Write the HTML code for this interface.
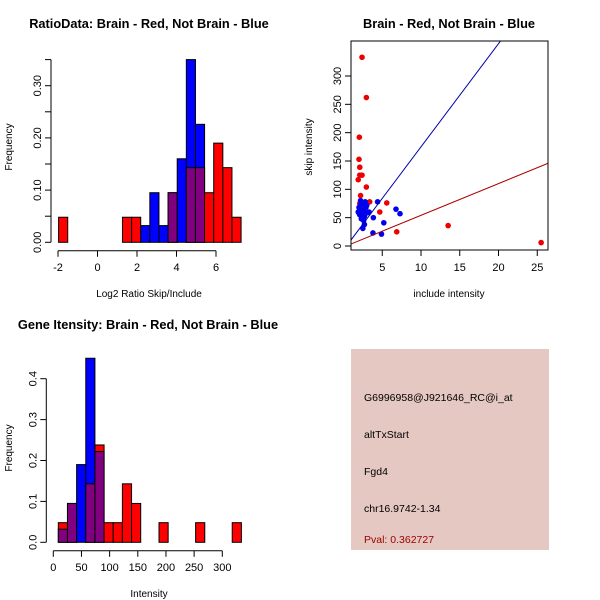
<!DOCTYPE html>
<html><head><meta charset="utf-8"><style>
body{margin:0;background:#fff}
svg{display:block;font-family:"Liberation Sans",sans-serif}
</style></head><body>
<svg id="s" width="600" height="600" viewBox="0 0 600 600">
<rect width="600" height="600" fill="#fff"/>
<g id="p1"></g>
<g id="p2"></g>
<g id="p3"></g>
<g>
<rect x="351" y="349" width="198" height="201" fill="#e5c8c1"/>
<text x="364" y="401" font-size="10.5">G6996958@J921646_RC@i_at</text>
<text x="364" y="438" font-size="10.5">altTxStart</text>
<text x="364" y="475" font-size="10.5">Fgd4</text>
<text x="364" y="512" font-size="10.5">chr16.9742-1.34</text>
<text x="364" y="543" font-size="10.5" fill="#990000">Pval: 0.362727</text>
</g>
</svg>
<script>
// ---- data: ratio histogram (20 bins) ----
const ratioBreakStart = -1.97;
const ratioBinWidth = 0.462;
const ratioRed  = [0.048,0,0,0,0,0,0,0.048,0.048,0,0,0,0.095,0,0.143,0.143,0.095,0.19,0.143,0.048];
const ratioBlue = [0,0,0,0,0,0,0,0,0,0.032,0.095,0.032,0.095,0.16,0.35,0.226,0,0,0,0];
const ratioXTicks = [-2,0,2,4,6];
const ratioYTicks = [0,0.05,0.10,0.15,0.20,0.25,0.30,0.35];
const ratioYLabels = ["0.00","","0.10","","0.20","","0.30",""];
// ---- data: scatter ----
const redX = [2.39,2.95,2.04,2.0,2.1,2.1,2.39,1.9,2.95,2.2,3.38,5.58,4.68,6.87,13.5,25.5,2.1,2.6];
const redY = [333,262,192,153,139,125,125,117,104,89,78,76,60,25,36,6,75,70];
const blueX = [2.5,2.7,2.3,2.0,1.9,2.1,2.3,2.5,2.8,2.2,2.6,2.9,3.0,2.4,2.7,2.1,3.3,2.0,2.9,4.4,6.77,7.29,5.2,3.85,3.8,4.9,3.2,2.2,2.6];
const blueY = [31,38,48,58,60,65,70,75,78,80,63,68,72,55,52,55,60,68,58,78,65,57,41,50,23,21,59,72,45];
const blueLine = [-7, 18.2];
const redLine = [-1.9, 5.6];
const scXTicks = [5,10,15,20,25];
const scYTicks = [0,50,100,150,200,250,300];
// ---- data: gene intensity histogram ----
const geneBreakStart = 8.9;
const geneBinWidth = 16.25;
const geneRed  = [0.048,0.095,0,0.143,0.238,0.048,0.048,0.143,0.095,0,0,0.048,0,0,0,0.048,0,0,0,0.048];
const geneBlue = [0.032,0.095,0.19,0.45,0.222,0,0,0,0,0,0,0,0,0,0,0,0,0,0,0];
const geneXTicks = [0,50,100,150,200,250,300];
const geneYTicks = [0,0.1,0.2,0.3,0.4];
const geneYLabels = ["0.0","0.1","0.2","0.3","0.4"];

const NS="http://www.w3.org/2000/svg";
function mk(parent,tag,attrs,text){const e=document.createElementNS(NS,tag);for(const k in attrs)e.setAttribute(k,attrs[k]);if(text!==undefined)e.textContent=text;parent.appendChild(e);return e;}

function hist(g,o){
  const sx=v=>o.x0+(v-o.xv0)*o.kx, sy=v=>o.y0-v*o.ky;
  const t=mk(g,'text',{x:o.tx,y:o.ty,'font-size':12.8,'font-weight':'bold','text-anchor':'middle'},o.title);
  
  for(let i=0;i<o.red.length;i++){
    const a=sx(o.bs+i*o.bw), b=sx(o.bs+(i+1)*o.bw);
    const r=o.red[i], bl=o.blue[i], hi=Math.max(r,bl), lo=Math.min(r,bl);
    if(hi>0){
      const e=mk(g,'rect',{x:a,y:sy(hi),width:b-a,height:sy(0)-sy(hi),fill:r>=bl?'#ff0000':'#0000ff',stroke:'#000','stroke-width':1});
      
    }
    if(lo>0){
      const e=mk(g,'rect',{x:a,y:sy(lo),width:b-a,height:sy(0)-sy(lo),fill:'#800080',stroke:'#000','stroke-width':1});
      
    }
  }
  const ya=o.x0-7, xa=o.y0+8.5;
  mk(g,'line',{x1:ya,x2:ya,y1:sy(o.yt[0]),y2:sy(o.yt[o.yt.length-1]),stroke:'#000'});
  o.yt.forEach((v,i)=>{mk(g,'line',{x1:ya-6,x2:ya,y1:sy(v),y2:sy(v),stroke:'#000'});
    if(o.yl[i]){const l=mk(g,'text',{x:ya-10,y:sy(v),'font-size':11,'text-anchor':'middle',transform:`rotate(-90 ${ya-10} ${sy(v)})`},o.yl[i]);
    }});
  mk(g,'line',{x1:sx(o.xt[0]),x2:sx(o.xt[o.xt.length-1]),y1:xa,y2:xa,stroke:'#000'});
  o.xt.forEach(v=>{mk(g,'line',{x1:sx(v),x2:sx(v),y1:xa,y2:xa+6,stroke:'#000'});
    const l=mk(g,'text',{x:sx(v),y:xa+20,'font-size':11,'text-anchor':'middle'},String(v));
    });
  const xl=mk(g,'text',{x:o.xlx,y:o.xly,'font-size':10,'text-anchor':'middle'},o.xlab);
  
  const yl=mk(g,'text',{x:12,y:o.yly,'font-size':10,'text-anchor':'middle',transform:`rotate(-90 12 ${o.yly})`},'Frequency');
  
}
hist(document.getElementById('p1'),{x0:58,xv0:-2,kx:19.75,y0:242.3,ky:522,bs:ratioBreakStart,bw:ratioBinWidth,red:ratioRed,blue:ratioBlue,xt:ratioXTicks,yt:ratioYTicks,yl:ratioYLabels,title:'RatioData: Brain - Red, Not Brain - Blue',tx:149,ty:28,xlab:'Log2 Ratio Skip/Include',xlx:149,xly:297,yly:147});
hist(document.getElementById('p3'),{x0:53.3,xv0:0,kx:0.5633,y0:542.3,ky:409,bs:geneBreakStart,bw:geneBinWidth,red:geneRed,blue:geneBlue,xt:geneXTicks,yt:geneYTicks,yl:geneYLabels,title:'Gene Itensity: Brain - Red, Not Brain - Blue',tx:148,ty:329,xlab:'Intensity',xlx:149,xly:597,yly:448});

// scatter
(function(){
  const g=document.getElementById('p2');
  const sx=v=>343.5+v*7.75, sy=v=>246-v*0.5667;
  const L=351,R=548,T=41,B=250;
  const t=mk(g,'text',{x:449,y:28,'font-size':12.8,'font-weight':'bold','text-anchor':'middle'},'Brain - Red, Not Brain - Blue');
  
  const cp=mk(mk(g,'defs',{}),'clipPath',{id:'cp'});
  mk(cp,'rect',{x:L,y:T,width:R-L,height:B-T});
  const cg=mk(g,'g',{'clip-path':'url(#cp)'});
  redX.forEach((x,i)=>{const c=mk(cg,'circle',{cx:sx(x),cy:sy(redY[i]),r:2.8,fill:'#ee0000'});
    });
  blueX.forEach((x,i)=>{const c=mk(cg,'circle',{cx:sx(x),cy:sy(blueY[i]),r:2.8,fill:'#0000ee'});
    });
  const x1=0.9,x2=27;
  const bl=mk(cg,'line',{x1:sx(x1),y1:sy(blueLine[0]+blueLine[1]*x1),x2:sx(x2),y2:sy(blueLine[0]+blueLine[1]*x2),stroke:'#0000aa'});
  
  const rl=mk(cg,'line',{x1:sx(x1),y1:sy(redLine[0]+redLine[1]*x1),x2:sx(x2),y2:sy(redLine[0]+redLine[1]*x2),stroke:'#aa0000'});
  
  const fr=mk(g,'rect',{x:L,y:T,width:R-L,height:B-T,fill:'none',stroke:'#000'});
  
  scXTicks.forEach(v=>{mk(g,'line',{x1:sx(v),x2:sx(v),y1:B,y2:B+6,stroke:'#000'});
    const l=mk(g,'text',{x:sx(v),y:B+21,'font-size':11,'text-anchor':'middle'},String(v));
    });
  scYTicks.forEach(v=>{mk(g,'line',{x1:L-6,x2:L,y1:sy(v),y2:sy(v),stroke:'#000'});
    const l=mk(g,'text',{x:L-10,y:sy(v),'font-size':11,'text-anchor':'middle',transform:`rotate(-90 ${L-10} ${sy(v)})`},String(v));
    });
  const xl=mk(g,'text',{x:449,y:297,'font-size':10,'text-anchor':'middle'},'include intensity');
  
  const yl=mk(g,'text',{x:312,y:147,'font-size':10,'text-anchor':'middle',transform:'rotate(-90 312 147)'},'skip intensity');
  
})();
</script>
</body></html>
